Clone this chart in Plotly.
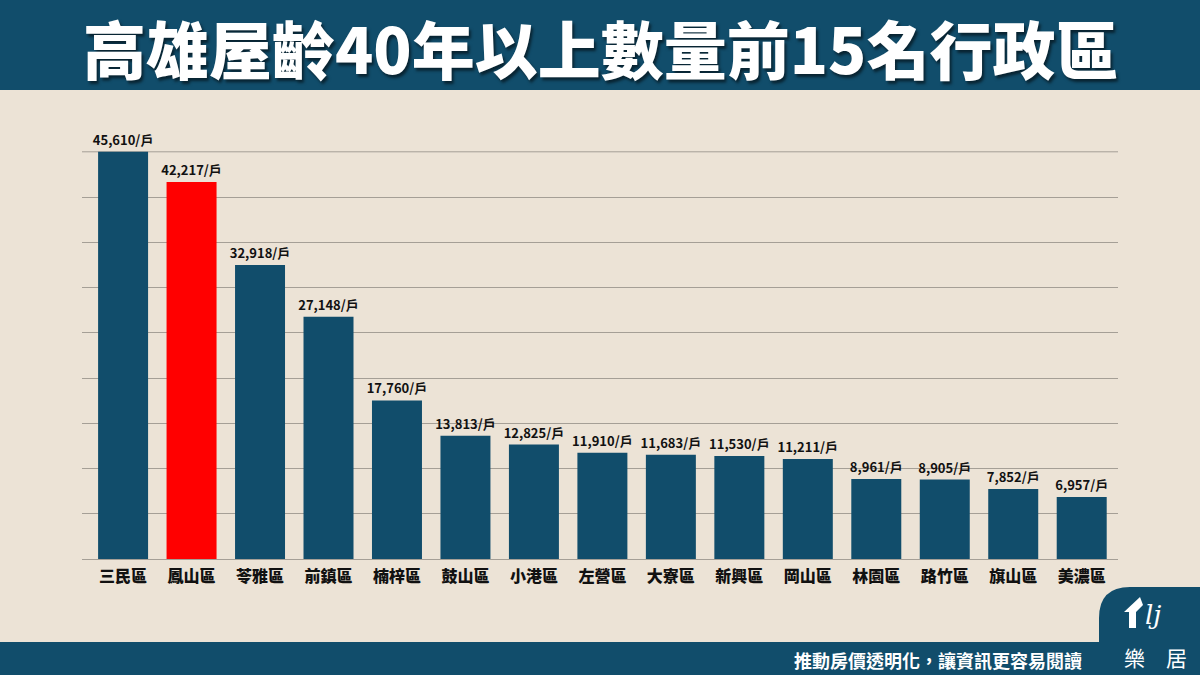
import plotly.graph_objects as go

districts = ["三民區", "鳳山區", "苓雅區", "前鎮區", "楠梓區", "鼓山區", "小港區", "左營區",
             "大寮區", "新興區", "岡山區", "林園區", "路竹區", "旗山區", "美濃區"]
counts = [45610, 42217, 32918, 27148, 17760, 13813, 12825, 11910,
          11683, 11530, 11211, 8961, 8905, 7852, 6957]
highlight = "鳳山區"

title_text = "高雄屋齡40年以上數量前15名行政區"
footer_text = "推動房價透明化，讓資訊更容易閱讀"

W, H = 1200, 675
L, R, T, B = 82, 82, 151, 116
PW, PH = W - L - R, H - T - B

BLUE = "#114d6b"
BG = "#ece3d6"
GRID = "#a59f96"
FONT = "Noto Sans CJK TC"


def px(x):
    return (x - L) / PW


def py(y):
    return (H - B - y) / PH


colors = ["#ff0000" if d == highlight else BLUE for d in districts]
labels = [f"{v:,}/戶" for v in counts]

fig = go.Figure(go.Bar(
    x=districts, y=counts, marker=dict(color=colors, line=dict(width=0)),
    text=labels, textposition="outside", cliponaxis=False, constraintext="none",
    textfont=dict(family=FONT, size=13, color="#111111", weight="bold"),
    hoverinfo="skip",
))

ymax = max(counts)
fig.update_layout(
    width=W, height=H,
    margin=dict(l=L, r=R, t=T, b=B, pad=0),
    paper_bgcolor=BG, plot_bgcolor=BG,
    showlegend=False,
    bargap=0.27,
    font=dict(family=FONT),
    xaxis=dict(range=[-0.6, 14.53], showgrid=False, showline=False, ticks="",
               tickfont=dict(family=FONT, size=16, color="#111111", weight=900),
               ticklabelstandoff=6),
    yaxis=dict(range=[0, ymax * 1.002], tick0=0, dtick=ymax / 9, showgrid=True,
               gridcolor=GRID, gridwidth=1, zeroline=True,
               zerolinecolor=GRID, zerolinewidth=1, showticklabels=False,
               showline=False, ticks=""),
)

shapes = [
    # top gridline at the maximum value
    dict(type="line", xref="paper", yref="y", x0=0, x1=1, y0=ymax, y1=ymax,
         line=dict(color=GRID, width=1), layer="below"),
    # title banner
    dict(type="rect", xref="paper", yref="paper", x0=px(0), x1=px(W), y0=py(90), y1=py(0),
         fillcolor=BLUE, line=dict(width=0), layer="below"),
    # footer band
    dict(type="rect", xref="paper", yref="paper", x0=px(0), x1=px(W), y0=py(H), y1=py(642),
         fillcolor=BLUE, line=dict(width=0), layer="below"),
]
# logo tab
path = (f"M {px(1099)},{py(643)} L {px(1099)},{py(618)} "
        f"Q {px(1099)},{py(587)} {px(1130)},{py(587)} "
        f"L {px(1200)},{py(587)} L {px(1200)},{py(643)} Z")
shapes.append(dict(type="path", xref="paper", yref="paper", path=path,
                   fillcolor=BLUE, line=dict(width=0), layer="above"))
# logo house mark
house = (f"M {px(1124)},{py(612)} L {px(1140)},{py(597)} L {px(1143)},{py(605)} "
         f"L {px(1136)},{py(612)} L {px(1136)},{py(628)} L {px(1129)},{py(628)} "
         f"L {px(1129)},{py(612)} Z")
shapes.append(dict(type="path", xref="paper", yref="paper", path=house,
                   fillcolor="white", line=dict(width=0), layer="above"))
fig.update_layout(shapes=shapes)

annotations = [
    dict(text=title_text, xref="paper", yref="paper", x=px(600), y=py(46),
         xanchor="center", yanchor="middle", showarrow=False,
         font=dict(family=FONT, size=63, color="white", weight=900,
                   shadow="2px 3px 3px rgba(0,0,0,0.55)")),
    dict(text=footer_text, xref="paper", yref="paper", x=px(1084), y=py(660),
         xanchor="right", yanchor="middle", showarrow=False,
         font=dict(family=FONT, size=18, color="white", weight="bold")),
    dict(text="<i>lj</i>", xref="paper", yref="paper", x=px(1153), y=py(615),
         xanchor="center", yanchor="middle", showarrow=False,
         font=dict(family="DejaVu Serif", size=26, color="white")),
    dict(text="樂　居", xref="paper", yref="paper", x=px(1155), y=py(657),
         xanchor="center", yanchor="middle", showarrow=False,
         font=dict(family=FONT, size=21, color="white")),
]
fig.update_layout(annotations=annotations)

fig.write_html("out.html")
